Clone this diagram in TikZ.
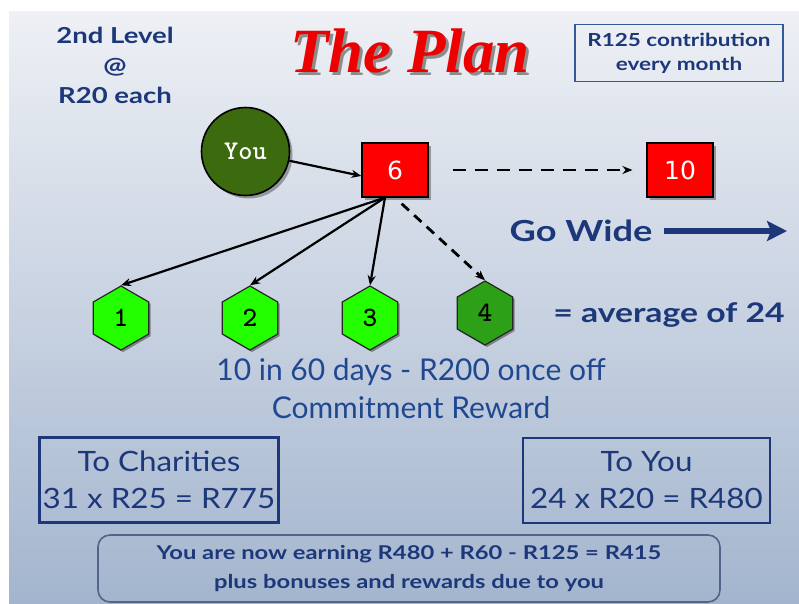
\documentclass[tikz,border=0pt]{standalone}
\usepackage{fontspec}
\setmainfont{Lato}
\newfontfamily\widefont{Lato}[FakeStretch=1.25]
\newfontfamily\boxtextfont{Lato}[FakeStretch=1.12]
\newfontfamily\titlefont{Liberation Serif}
\newfontfamily\boxfont{DejaVu Sans}
\usepackage{tikz}
\usetikzlibrary{shapes.geometric,shadows,arrows.meta}

\definecolor{slidetop}{RGB}{238,240,245}
\definecolor{slidebot}{RGB}{163,181,206}
\definecolor{navy}{RGB}{28,56,122}
\definecolor{textblue}{RGB}{32,72,145}
\definecolor{lineblue}{RGB}{50,90,152}
\definecolor{greyblue}{RGB}{80,100,140}
\definecolor{yougreen}{RGB}{60,106,14}
\definecolor{hexgreen}{RGB}{36,255,0}
\definecolor{hexdark}{RGB}{44,160,22}
\definecolor{planred}{RGB}{238,0,0}

\tikzset{
  redbox/.style={draw=black,line width=1.2pt,fill=red,minimum width=66pt,minimum height=54pt,
    text=white,font=\boxfont\fontsize{25}{28}\selectfont,
    drop shadow={shadow xshift=3pt,shadow yshift=-3pt,fill=black!60,opacity=.6}},
  hexnode/.style={regular polygon,regular polygon sides=6,shape border rotate=30,
    minimum size=64pt,inner sep=0pt,draw=black!85,line width=1.2pt,fill=hexgreen,
    font=\ttfamily\bfseries\fontsize{28}{28}\selectfont,
    drop shadow={shadow xshift=2pt,shadow yshift=-2pt,fill=black!70,opacity=.6}},
  link/.style={line width=2.2pt,-{Stealth[length=10pt,width=8pt]}},
  sumbox/.style={draw=navy,line width=2.4pt,minimum width=#1,minimum height=85pt,
    align=center,text=navy,font=\boxtextfont\fontsize{28}{37}\selectfont},
  bluetext/.style 2 args={align=center,text=navy,font=\widefont\bfseries\fontsize{#1}{#2}\selectfont}
}

\begin{document}
\begin{tikzpicture}[x=1pt,y=-1pt]
  \useasboundingbox (0,0) rectangle (799,603);
  \fill[white] (0,0) rectangle (799,603);
  \shade[top color=slidetop,bottom color=slidebot] (9,11) rectangle (799,603);

  \node[bluetext={22}{30}] (level) at (115,65) {2nd Level\\@\\R20 each};
  \node[text=planred,font=\titlefont\bfseries\itshape\fontsize{63}{63}\selectfont] (title) at (410,52)
    {\rlap{\kern3pt\raisebox{-3pt}{\textcolor{black!45}{The Plan}}}The Plan};
  \node[bluetext={18}{24},draw=lineblue,line width=1.8pt,minimum width=208pt,minimum height=57pt,inner sep=2pt] (contrib) at (679,53) {R125 contribution\\every month};

  \node[circle,draw=black,line width=1.6pt,fill=yougreen,minimum size=88pt,text=white,
    font=\ttfamily\bfseries\fontsize{27}{28}\selectfont,
    drop shadow={shadow xshift=3pt,shadow yshift=-3pt,fill=black!60,opacity=.6}] (you) at (245.5,151.5) {You};
  \node[redbox] (six) at (395,170) {6};
  \node[redbox] (ten) at (680,170) {10};

  \foreach \n/\x/\y in {1/121/318,2/250/318,3/370/318} {
    \node[hexnode] (h\n) at (\x,\y) {\n};
  }
  \node[hexnode,fill=hexdark] (h4) at (485,313) {4};

  \draw[link] (you) -- (six.190);
  \draw[link,line width=2.4pt,dash pattern=on 13pt off 9pt,shorten <=24pt,shorten >=14pt] (six.east) -- (ten.west);
  \foreach \n in {1,2,3} {
    \draw[link] (six.250) -- (h\n.north);
  }
  \draw[link,line width=2.8pt,dash pattern=on 10pt off 7pt,shorten <=9pt] (six.south) -- (h4.north);

  \node[bluetext={29}{34}] (gowide) at (581,231) {Go Wide};
  \coordinate (wideend) at (787,231);
  \draw[navy,line width=6pt,-{Stealth[length=20pt,width=20pt,inset=4pt]}] (gowide.east) ++(8,0) -- (wideend);
  \node[bluetext={27}{30}] (average) at (669,315) {= average of 24};

  \node[align=center,text=textblue,font=\fontsize{30}{38}\selectfont] (reward) at (411,389) {10 in 60 days - R200 once off\\Commitment Reward};

  \node[sumbox=238pt] (charity) at (159,480) {To Charities\\31 x R25 = R775};
  \node[sumbox=247pt] (toyou) at (646.5,480.5) {To You\\24 x R20 = R480};
  \node[draw=greyblue,line width=1.6pt,rounded corners=12pt,minimum width=622pt,minimum height=67pt,
    bluetext={19}{29}] (earning) at (409,568.5) {You are now earning R480 + R60 - R125 = R415\\plus bonuses and rewards due to you};
\end{tikzpicture}
\end{document}
